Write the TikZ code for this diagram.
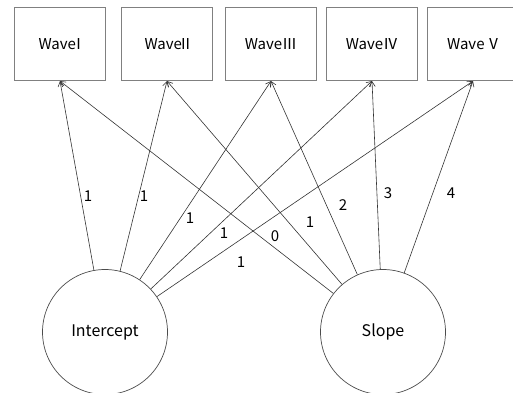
\documentclass[tikz,border=0pt]{standalone}
\usepackage{fontspec}
\setmainfont{Noto Sans CJK KR}
\usetikzlibrary{arrows.meta}
\begin{document}
\begin{tikzpicture}[x=1pt,y=-1pt,
  wbox/.style={draw=black!50, line width=1.1pt, minimum width=91pt, minimum height=73pt, inner sep=0pt, font=\fontsize{15}{17}\selectfont},
  lat/.style={circle, draw=black!70, line width=0.7pt, minimum size=125pt, inner sep=0pt, font=\fontsize{16}{18}\selectfont},
  ld/.style={draw=black!80, line width=0.6pt, -{Straight Barb[length=5pt,width=6pt]}},
  lab/.style={inner sep=0pt, font=\fontsize{15}{17}\selectfont}]
\useasboundingbox (0,0) rectangle (513,392);
\node[wbox] (w1) at (60,44) {Wave\kern-0.32emⅠ\kern-0.32em};
\node[wbox] (w2) at (167,44) {Wave\kern-0.25emⅡ\kern-0.25em};
\node[wbox] (w3) at (271,44) {WaveⅢ};
\node[wbox] (w4) at (372,44) {WaveⅣ};
\node[wbox] (w5) at (473,44) {Wave\kern-0.12em\ Ⅴ\kern-0.15em};
\node[lat] (ic) at (105,332) {Intercept};
\node[lat] (sl) at (383,332) {Slope};
\foreach \w in {w1,w2,w3,w4,w5} {
  \draw[ld] (ic) -- (\w.south);
  \draw[ld] (sl) -- (\w.south);
}
\node[lab] (a1) at (88,196) {1};
\node[lab] (a2) at (144,196) {1};
\node[lab] (a3) at (190,218) {1};
\node[lab] (a4) at (224,233) {1};
\node[lab] (a5) at (241,262) {1};
\node[lab] (b1) at (275,236) {0};
\node[lab] (b2) at (310,222) {1};
\node[lab] (b3) at (343,205) {2};
\node[lab] (b4) at (388,193) {3};
\node[lab] (b5) at (451,193) {4};
\end{tikzpicture}
\end{document}
